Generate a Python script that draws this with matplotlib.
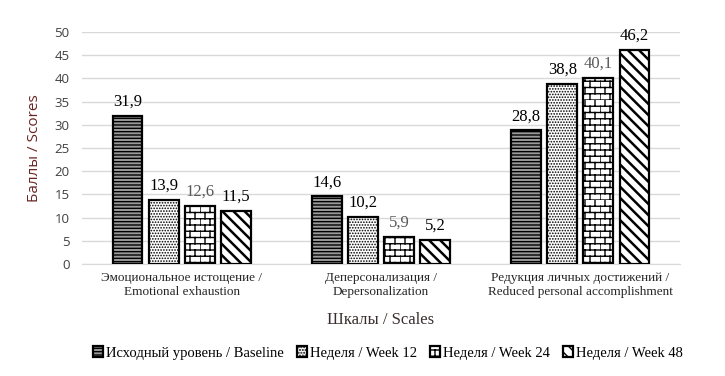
import matplotlib
matplotlib.use("Agg")
import matplotlib.pyplot as plt
import matplotlib.hatch as mhatch
from matplotlib.path import Path
import numpy as np

categories = ["Эмоциональное истощение /\nEmotional exhaustion",
              "Деперсонализация /\nDepersonalization",
              "Редукция личных достижений /\nReduced personal accomplishment"]
series_names = ["Исходный уровень / Baseline", "Неделя / Week 12",
                "Неделя / Week 24", "Неделя / Week 48"]
baseline = [31.9, 14.6, 28.8]
week12 = [13.9, 10.2, 38.8]
week24 = [12.6, 5.9, 40.1]
week48 = [11.5, 5.2, 46.2]
yticks = [0, 5, 10, 15, 20, 25, 30, 35, 40, 45, 50]


class BrickHatch(mhatch.HatchPatternBase):
    """Brick pattern triggered by '*' (replaces stars)."""
    def __init__(self, hatch, density):
        n = hatch.count('*')
        self.rows = 16 * n
        self.cols = 10 * n
        if n == 0:
            self.num_vertices = 0
        else:
            self.num_vertices = self.rows * 2 + self.rows * self.cols * 2

    def set_vertices_and_codes(self, vertices, codes):
        R, C = self.rows, self.cols
        v = []
        for r in range(R):
            y = r / R
            v.append((0.0, y)); v.append((1.0, y))
        for r in range(R):
            y0 = r / R
            y1 = (r + 1) / R
            off = 0.5 / C if r % 2 else 0.0
            for c in range(C):
                xx = (c / C + off) % 1.0
                v.append((xx, y0)); v.append((xx, y1))
        vertices[:] = np.array(v)
        codes[0::2] = Path.MOVETO
        codes[1::2] = Path.LINETO


mhatch._hatch_types = [t for t in mhatch._hatch_types if t is not mhatch.Stars] + [BrickHatch]

series = [baseline, week12, week24, week48]
faces = ["#9a9a9a", "white", "white", "white"]
hatches = ["-----", "......", "*", "\\\\\\"]
hatch_lw = [1.0, 0.8, 1.0, 1.8]
label_colors = ["black", "black", "#595959", "black"]

serif = ["Liberation Serif", "DejaVu Serif"]

fig = plt.figure(figsize=(7.25, 3.76), dpi=100)
ax = fig.add_axes([82/725, 1-264/376, (680-82)/725, (264-32)/376])

x = np.arange(len(categories))
w = 0.15
step = 0.181
for i, vals in enumerate(series):
    pos = x + (i - 1.5) * step
    with plt.rc_context({'hatch.linewidth': hatch_lw[i]}):
        bars = ax.bar(pos, vals, width=w, color=faces[i], edgecolor="black",
                      linewidth=1.6, hatch=hatches[i], label=series_names[i], zorder=3)
    for b in bars:
        if hasattr(b, "set_hatch_linewidth"):
            b.set_hatch_linewidth(hatch_lw[i])
    for b, v in zip(bars, vals):
        ax.text(b.get_x() + b.get_width()/2, v + 1.3, f"{v:.1f}".replace(".", ","),
                ha="center", va="bottom", fontsize=12, family=serif,
                color=label_colors[i], zorder=4)

ax.set_xlim(-0.5, 2.5)
ax.set_ylim(0, 50)
ax.set_yticks(yticks)
ax.yaxis.grid(True, color="#d9d9d9", linewidth=1.0, zorder=0)
ax.set_axisbelow(True)
for s in ["top", "right", "left"]:
    ax.spines[s].set_visible(False)
ax.spines["bottom"].set_color("#d9d9d9")
ax.tick_params(axis="y", length=0, labelsize=9.5, pad=9, colors="#404040")
ax.tick_params(axis="x", length=0, pad=6)
for t in ax.get_yticklabels():
    t.set_family(["Open Sans", "DejaVu Sans"])
ax.set_xticks(x)
ax.set_xticklabels(categories, fontsize=9.5, family=serif, color="#262626", linespacing=1.2)

ax.set_ylabel("Баллы / Scores", fontsize=11, color="#6b2424",
              family=["Open Sans", "DejaVu Sans"], labelpad=9)
ax.set_xlabel("Шкалы / Scales", fontsize=12, family=serif, color="#3a2e2e", labelpad=10)

leg = fig.legend(loc="center", bbox_to_anchor=(388/725, 1-353/376), ncol=4,
                 frameon=False, prop={"family": serif, "size": 10.5},
                 handlelength=0.7, handleheight=0.7, handletextpad=0.2,
                 columnspacing=0.9)

fig.savefig("out.png", dpi=100)
